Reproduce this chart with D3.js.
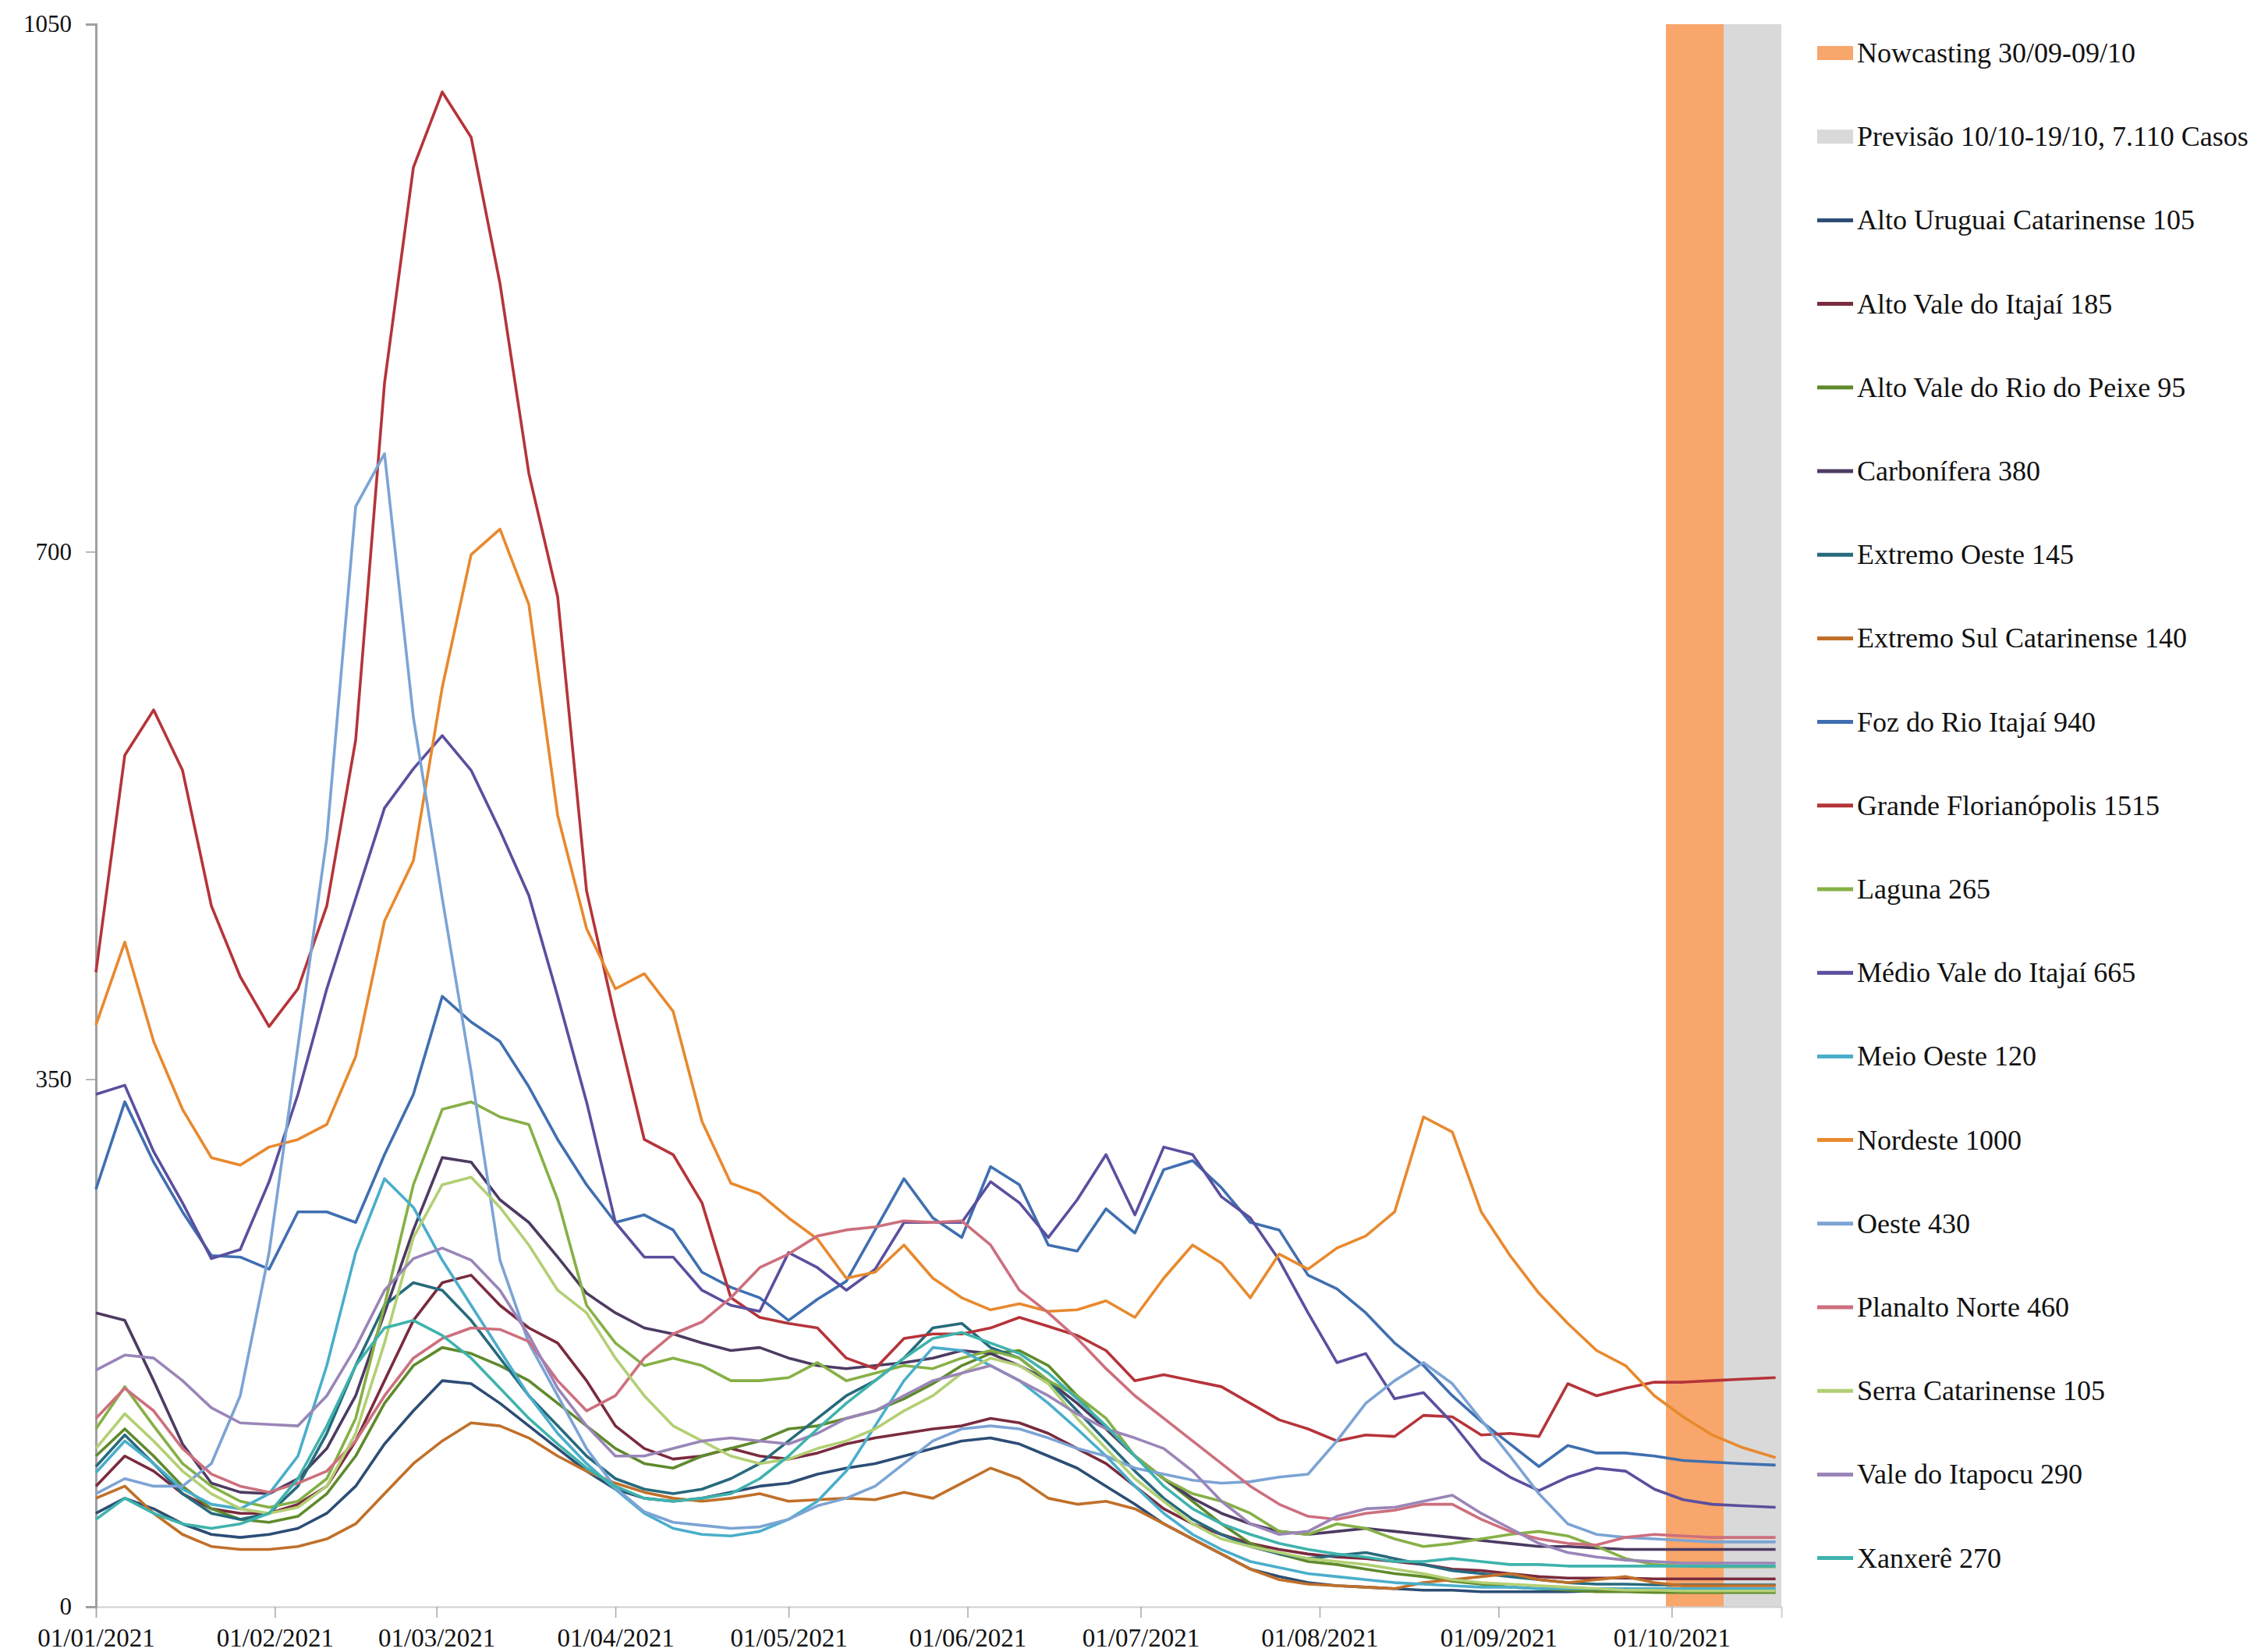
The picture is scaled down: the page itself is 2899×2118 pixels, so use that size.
<!DOCTYPE html>
<html>
<head>
<meta charset="utf-8">
<script src="https://cdn.jsdelivr.net/npm/d3@7"></script>
<style>
  body { margin: 0; background: #fff; }
  svg { display: block; font-family: "Liberation Serif", "Times New Roman", serif; }
</style>
</head>
<body>
<svg id="chart" width="2899" height="2118"></svg>
<script>
const dayOffsets = [0,5,10,15,20,25,30,35,40,45,50,55,60,65,70,75,80,85,90,95,100,105,110,115,120,125,130,135,140,145,150,155,160,165,170,175,180,185,190,195,200,205,210,215,220,225,230,235,240,245,250,255,260,265,270,275,280,285,291];

const altoUruguai = [62,72,65,55,48,46,48,52,62,80,108,130,150,148,135,120,105,90,78,72,70,72,76,80,82,88,92,95,100,105,110,112,108,100,92,80,68,55,45,35,25,20,16,14,13,12,11,11,10,10,10,10,10.5,10.5,10.5,10.5,10.5,10.5,10.5];
const altoValeItajai = [80,100,90,75,65,62,62,68,80,110,150,190,215,220,200,185,175,150,120,105,98,100,105,100,98,102,108,112,115,118,120,125,122,115,105,95,80,65,55,48,42,38,35,33,32,30,28,25,24,22,20,19,19,19,18.5,18.5,18.5,18.5,18.5];
const altoValeRioPeixe = [100,118,100,80,65,58,56,60,75,100,135,160,172,168,160,150,135,120,105,95,92,100,105,110,118,120,125,130,138,148,160,168,170,160,140,118,100,85,70,55,42,35,30,28,25,22,20,17,15,13,12,11,10,10,9.5,9.5,9.5,9.5,9.5];
const carbonifera = [195,190,150,108,82,76,75,85,105,140,195,250,298,295,270,255,232,208,195,185,181,175,170,172,165,160,158,160,162,165,170,168,160,150,135,118,100,85,72,62,55,50,48,50,52,50,48,46,44,42,40,40,39,38,38,38,38,38,38];
const extremoOeste = [93,114,95,75,62,58,62,80,115,160,200,215,210,190,165,140,120,100,85,78,75,78,85,95,110,125,140,150,165,185,188,172,165,150,130,110,90,72,58,48,40,35,32,34,36,32,28,24,22,20,18,16,15,15,14.5,14.5,14.5,14.5,14.5];
const extremoSul = [72,80,62,48,40,38,38,40,45,55,75,95,110,122,120,112,100,90,82,76,72,70,72,75,70,71,72,71,76,72,82,92,85,72,68,70,65,55,45,35,25,18,15,14,13,12,16,18,20,22,18,16,18,20,16,14,14,14,14];
const fozItajai = [277,335,295,262,233,232,224,262,262,255,300,340,405,388,375,345,310,280,255,260,250,222,212,205,190,204,216,250,284,258,245,292,280,240,236,264,248,290,296,278,255,250,220,211,195,175,160,140,123,108,93,107,102,102,100,97,96,95,94];
const grandeFloripa = [421,565,595,555,465,418,385,410,465,575,812,955,1005,975,878,752,670,475,390,310,300,268,205,192,188,185,165,158,178,181,181,185,192,186,180,170,150,154,150,146,135,124,118,110,114,113,127,126,114,115,113,148,140,145,149,149,150,151,152];
const laguna = [118,146,120,95,80,70,66,70,85,125,200,280,330,335,325,320,270,200,175,160,165,160,150,150,152,162,150,155,160,158,165,170,165,150,140,125,100,85,75,70,62,50,48,55,52,45,40,42,45,48,50,47,40,32,28,27,26.5,26.5,26.5];
const medioVale = [340,346,302,268,231,237,282,340,410,470,530,556,578,555,515,472,405,335,255,232,232,210,200,196,235,225,210,224,255,255,255,282,268,245,270,300,260,305,300,272,258,230,195,162,168,138,142,122,98,86,77,86,92,90,78,71,68,67,66];
const meioOeste = [89,110,95,78,68,65,75,100,160,235,284,265,230,200,170,140,115,95,78,62,52,48,47,50,58,70,90,120,150,172,170,160,150,135,118,100,80,62,48,38,30,26,22,20,18,16,15,14,13,13,12,12,12,12,12,12,12,12,12];
const nordeste = [386,441,375,330,298,293,305,310,320,365,455,495,610,698,715,665,525,450,410,420,395,322,281,274,258,244,218,222,240,218,205,197,201,196,197,203,192,218,240,228,205,234,224,238,246,262,325,315,262,233,208,188,170,160,140,126,114,106,99];
const oeste = [75,85,80,80,95,140,235,372,510,730,765,590,470,355,230,175,140,105,79,63,56,54,52,53,58,67,72,80,95,110,118,120,118,112,105,100,92,88,84,82,83,86,88,110,135,150,162,148,124,100,75,55,48,46,45,44,43,43,43];
const planaltoNorte = [125,145,130,105,88,80,76,82,90,110,140,165,178,185,184,176,150,130,140,165,181,189,205,225,234,246,250,252,256,255,256,240,210,195,178,158,140,125,110,95,80,68,60,58,62,64,68,68,58,50,45,42,41,46,48,47,46,46,46];
const serra = [105,128,110,90,75,65,62,66,80,115,175,245,280,285,265,240,210,195,165,140,120,110,100,95,98,105,110,118,130,140,155,165,160,148,125,105,85,70,55,45,40,36,32,30,28,25,22,18,16,15,14,13,12,11,11,10.5,10.5,10.5,10.5];
const valeItapocu = [157,167,165,150,132,122,121,120,140,172,210,231,238,230,210,180,145,120,100,100,105,110,112,110,108,115,125,130,140,150,155,160,150,140,128,118,112,105,90,70,55,48,50,60,65,66,70,74,62,52,42,36,33,31,30,29,29,29,29];
const xanxere = [58,72,62,55,52,55,62,85,120,160,185,190,180,165,145,125,108,92,80,72,70,72,75,85,100,118,135,150,165,178,182,175,168,155,138,120,100,80,65,55,48,42,38,35,33,30,30,32,30,28,28,27,27,27,27,27,27,27,27];

const seriesNames = ["Alto Uruguai Catarinense 105","Alto Vale do Itajaí 185","Alto Vale do Rio do Peixe 95","Carbonífera 380","Extremo Oeste 145","Extremo Sul Catarinense 140","Foz do Rio Itajaí 940","Grande Florianópolis 1515","Laguna 265","Médio Vale do Itajaí 665","Meio Oeste 120","Nordeste 1000","Oeste 430","Planalto Norte 460","Serra Catarinense 105","Vale do Itapocu 290","Xanxerê 270"];
const seriesValues = [altoUruguai, altoValeItajai, altoValeRioPeixe, carbonifera, extremoOeste, extremoSul, fozItajai, grandeFloripa, laguna, medioVale, meioOeste, nordeste, oeste, planaltoNorte, serra, valeItapocu, xanxere];

const bandLabels = ["Nowcasting 30/09-09/10", "Previsão 10/10-19/10, 7.110 Casos"];
const bandStarts = ["2021-09-30", "2021-10-10"];
const bandEnds = ["2021-10-10", "2021-10-20"];

const yTicks = [0, 350, 700, 1050];
const xTickDates = ["2021-01-01","2021-02-01","2021-03-01","2021-04-01","2021-05-01","2021-06-01","2021-07-01","2021-08-01","2021-09-01","2021-10-01"];
const xTickLabels = ["01/01/2021","01/02/2021","01/03/2021","01/04/2021","01/05/2021","01/06/2021","01/07/2021","01/08/2021","01/09/2021","01/10/2021"];

// styling
const lineColors = ["#2c4d75","#7a2b3e","#5f8a2c","#4d3b62","#276a7c","#c0702a","#3f6fb0","#b5343a","#86b046","#5a4f9e","#4aaecb","#e8892e","#7ca4d4","#cd6f7e","#b3cf74","#9a85b8","#3fb3ad"];
const bandColors = ["#f8a66b", "#d9d9d9"];

const parse = d3.utcParse("%Y-%m-%d");
const start = parse("2021-01-01");

const svg = d3.select("#chart");

const x = d3.scaleUtc()
  .domain([start, parse("2021-10-20")])
  .range([123, 2284]);
const y = d3.scaleLinear()
  .domain([0, 1050])
  .range([2060, 31]);

// forecast bands
svg.append("g").selectAll("rect")
  .data(bandLabels)
  .enter().append("rect")
  .attr("x", (d, i) => x(parse(bandStarts[i])))
  .attr("width", (d, i) => x(parse(bandEnds[i])) - x(parse(bandStarts[i])))
  .attr("y", y(1050))
  .attr("height", y(0) - y(1050))
  .attr("fill", (d, i) => bandColors[i]);

// x axis
const xAxis = svg.append("g")
  .attr("transform", "translate(0," + y(0) + ")")
  .call(d3.axisBottom(x)
    .tickValues(xTickDates.map(parse))
    .tickSize(14)
    .tickPadding(14)
    .tickFormat((d, i) => xTickLabels[i]));
xAxis.select(".domain").attr("stroke", "#d0d0d0").attr("stroke-width", 2);
xAxis.selectAll(".tick line").attr("stroke", "#a8a8a8").attr("stroke-width", 1.5);
xAxis.selectAll(".tick text")
  .attr("fill", "#111")
  .style("font-size", "33px")
  .style("font-family", "Liberation Serif");

// y axis
const yAxis = svg.append("g")
  .attr("transform", "translate(123,0)")
  .call(d3.axisLeft(y).tickValues(yTicks).tickSize(13).tickPadding(18).tickFormat(d3.format("d")));
yAxis.select(".domain").attr("stroke", "#a0a0a0").attr("stroke-width", 3);
yAxis.selectAll(".tick line").attr("stroke", "#a0a0a0").attr("stroke-width", 1.5);
yAxis.selectAll(".tick text")
  .attr("fill", "#111")
  .style("font-size", "31px")
  .style("font-family", "Liberation Serif");

// series lines
const line = d3.line()
  .x((d, i) => x(d3.utcDay.offset(start, dayOffsets[i])))
  .y(d => y(d));

svg.append("g").selectAll("path")
  .data(seriesValues)
  .enter().append("path")
  .attr("d", d => line(d))
  .attr("fill", "none")
  .attr("stroke", (d, i) => lineColors[i])
  .attr("stroke-width", 3.6)
  .attr("stroke-linejoin", "round");

// legend
const legend = svg.append("g").attr("transform", "translate(2330,68)");
const rowH = 107.2;
const legendItems = bandLabels.map((d, i) => ({ label: d, kind: "band", color: bandColors[i] }))
  .concat(seriesNames.map((d, i) => ({ label: d, kind: "line", color: lineColors[i] })));

const item = legend.selectAll("g")
  .data(legendItems)
  .enter().append("g")
  .attr("transform", (d, i) => "translate(0," + i * rowH + ")");

item.filter(d => d.kind === "band").append("rect")
  .attr("x", 0).attr("y", -9).attr("width", 46).attr("height", 18)
  .attr("fill", d => d.color);
item.filter(d => d.kind === "line").append("line")
  .attr("x1", 0).attr("x2", 46).attr("y1", 0).attr("y2", 0)
  .attr("stroke", d => d.color).attr("stroke-width", 5);
item.append("text")
  .attr("x", 51)
  .attr("y", 12)
  .attr("fill", "#111")
  .style("font-size", "36px")
  .text(d => d.label);
</script>
</body>
</html>
